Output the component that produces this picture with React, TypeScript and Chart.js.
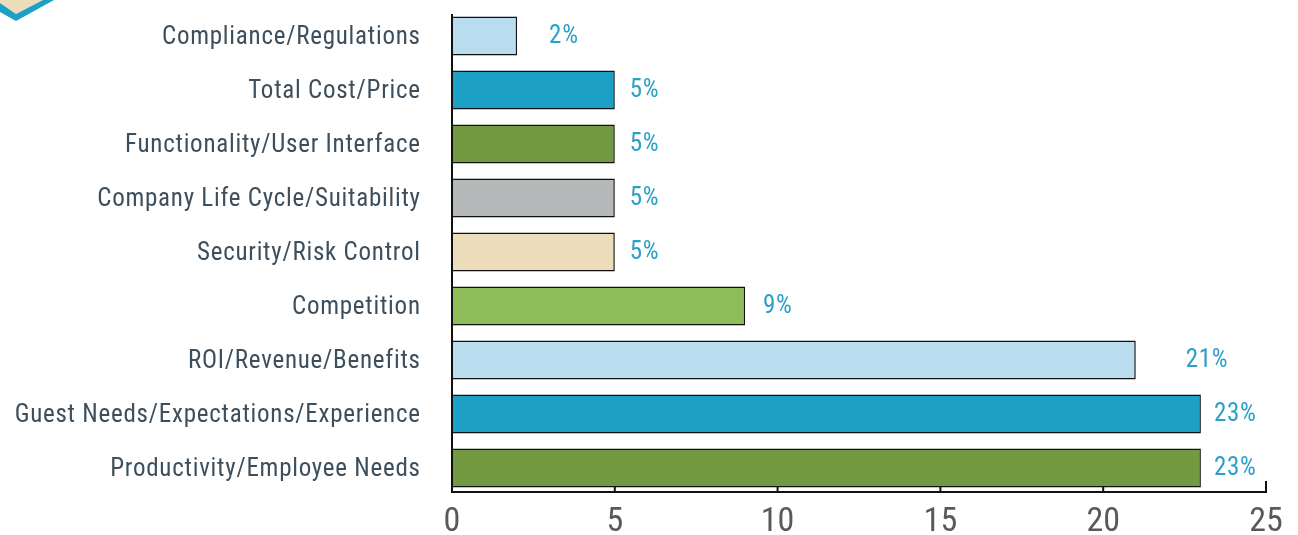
import React, { useEffect, useRef } from "react";
import { Chart, registerables } from "chart.js";

Chart.register(...registerables);

const categories = [
  "Compliance/Regulations",
  "Total Cost/Price",
  "Functionality/User Interface",
  "Company Life Cycle/Suitability",
  "Security/Risk Control",
  "Competition",
  "ROI/Revenue/Benefits",
  "Guest Needs/Expectations/Experience",
  "Productivity/Employee Needs",
];
const values = [2, 5, 5, 5, 5, 9, 21, 23, 23];
const valueLabels = ["2%", "5%", "5%", "5%", "5%", "9%", "21%", "23%", "23%"];
const barColors = [
  "#b9dcee",
  "#1ca0c6",
  "#739a41",
  "#b6b9ba",
  "#ecdcba",
  "#8fbd5a",
  "#b9dcee",
  "#1ca0c6",
  "#739a41",
];
const labelGaps = [32, 15, 15, 15, 15, 18, 50, 13, 13];
const xTicks = [0, 5, 10, 15, 20, 25];

const FONT = '"Roboto Condensed", "Liberation Sans Narrow", "DejaVu Sans Condensed", Roboto, sans-serif';

const decorPlugin = {
  id: "decor",
  afterDraw(chart: any) {
    const ctx = chart.ctx;
    const area = chart.chartArea;
    const xs = chart.scales.x;
    const ys = chart.scales.y;
    const meta = chart.getDatasetMeta(0);
    ctx.save();
    // corner chevron
    ctx.fillStyle = "#ecdcba";
    ctx.beginPath();
    ctx.moveTo(0, 0);
    ctx.lineTo(43, 0);
    ctx.lineTo(16, 14);
    ctx.lineTo(0, 3);
    ctx.closePath();
    ctx.fill();
    ctx.fillStyle = "#1ca0c6";
    ctx.beginPath();
    ctx.moveTo(0, 3);
    ctx.lineTo(16, 14);
    ctx.lineTo(43, 0);
    ctx.lineTo(54, 0);
    ctx.lineTo(16, 21);
    ctx.lineTo(0, 12);
    ctx.closePath();
    ctx.fill();

    // axes
    ctx.strokeStyle = "#111";
    ctx.lineWidth = 2;
    const x0 = xs.getPixelForValue(0);
    const x25 = xs.getPixelForValue(25);
    const yb = area.bottom - 3;
    ctx.beginPath();
    ctx.moveTo(x0, area.top + 5);
    ctx.lineTo(x0, yb + 1);
    ctx.moveTo(x0 - 1, yb);
    ctx.lineTo(x25 + 1, yb);
    ctx.stroke();
    xTicks.forEach((t, i) => {
      const px = xs.getPixelForValue(t);
      const len = i === xTicks.length - 1 ? 11 : 5;
      ctx.beginPath();
      ctx.moveTo(px, yb);
      ctx.lineTo(px, yb - len);
      ctx.stroke();
    });

    // category labels
    ctx.fillStyle = "#3d4f5c";
    ctx.font = "25px " + FONT;
    (ctx as any).letterSpacing = "0.75px";
    ctx.textBaseline = "middle";
    ctx.textAlign = "right";
    categories.forEach((c, i) => {
      ctx.fillText(c, x0 - 32 + 0.75, ys.getPixelForTick(i) + 1.5);
    });

    // value labels
    ctx.fillStyle = "#2aa0c8";
    ctx.font = "25px " + FONT;
    (ctx as any).letterSpacing = "0.7px";
    ctx.textAlign = "left";
    meta.data.forEach((bar: any, i: number) => {
      ctx.fillText(valueLabels[i], bar.x + labelGaps[i], bar.y + 1);
    });
    ctx.restore();
  },
};

export default function App() {
  const ref = useRef<HTMLCanvasElement>(null);
  useEffect(() => {
    const chart = new Chart(ref.current!, {
      type: "bar",
      data: {
        labels: categories,
        datasets: [
          {
            data: values,
            backgroundColor: barColors,
            borderColor: "#111",
            borderWidth: 1.5,
            categoryPercentage: 0.72,
            barPercentage: 1,
          },
        ],
      },
      options: {
        indexAxis: "y",
        animation: false,
        responsive: false,
        maintainAspectRatio: false,
        layout: { padding: { top: 9, right: 32, left: 0, bottom: 0 } },
        plugins: { legend: { display: false }, tooltip: { enabled: false } },
        scales: {
          x: {
            type: "linear",
            min: 0,
            max: 25,
            border: { display: false },
            grid: { display: false, drawTicks: false },
            afterBuildTicks(scale: any) {
              scale.ticks = xTicks.map((v) => ({ value: v }));
            },
            afterFit(scale: any) {
              scale.height = 40;
              scale.paddingTop = 0;
              scale.paddingBottom = 0;
            },
            ticks: {
              padding: 7,
              color: "#595959",
              font: { family: FONT, size: 34 },
              maxRotation: 0,
            },
          },
          y: {
            border: { display: false },
            grid: { display: false, drawTicks: false },
            afterFit(scale: any) {
              scale.width = 452;
              scale.paddingTop = 0;
              scale.paddingBottom = 0;
            },
            ticks: { display: false },
          },
        },
      },
      plugins: [decorPlugin],
    });
    return () => chart.destroy();
  }, []);
  return (
    <div style={{ position: "fixed", left: 0, top: 0, width: 1298, height: 535, background: "#fff" }}>
      <canvas ref={ref} width={1298} height={535} style={{ display: "block" }} />
    </div>
  );
}
